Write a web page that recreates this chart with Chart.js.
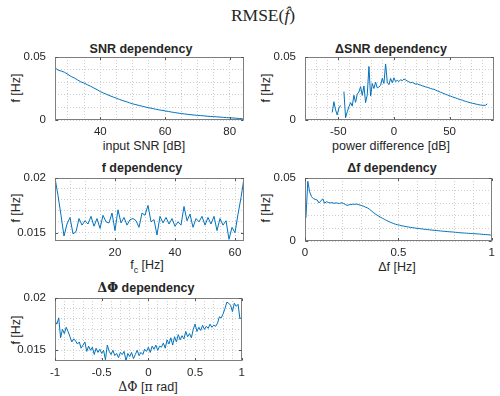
<!DOCTYPE html>
<html><head><meta charset="utf-8">
<script src="https://cdn.jsdelivr.net/npm/chart.js@4.4.1/dist/chart.umd.min.js"></script>
<style>
body{margin:0;background:#fff;width:500px;height:396px;position:relative;overflow:hidden;font-family:"Liberation Sans",Arial,sans-serif;color:#262626}
canvas{position:absolute}
.t{position:absolute;white-space:nowrap;transform:translate(-50%,-50%);font-size:12.5px;line-height:1}
.b{font-weight:bold}
.r{transform:translate(-50%,-50%) rotate(-90deg)}
.s{font-family:"DejaVu Serif",serif}
#main{font-family:"Liberation Serif",serif;font-size:17.5px}
</style></head>
<body>
<div class="t" id="main" style="left:263px;top:16px">RMSE(<i>f&#770;</i>)</div>
<div class="t b" style="left:141px;top:49px">SNR dependency</div>
<div class="t b" style="left:391px;top:49px">&Delta;SNR dependency</div>
<div class="t b" style="left:142px;top:168px">f dependency</div>
<div class="t b" style="left:392px;top:168px">&Delta;f dependency</div>
<div class="t b" style="left:146px;top:288px"><span class="s">&Delta;&Phi;</span> dependency</div>
<div class="t" style="left:144px;top:146px">input SNR [dB]</div>
<div class="t" style="left:391px;top:146px">power difference [dB]</div>
<div class="t" style="left:147px;top:267px">f<sub style="font-size:9px">c</sub> [Hz]</div>
<div class="t" style="left:397px;top:267px">&Delta;f [Hz]</div>
<div class="t" style="left:148px;top:387px"><span class="s">&Delta;&Phi;</span> [<span class="s">&pi;</span> rad]</div>
<div class="t r" style="left:16px;top:88px">f [Hz]</div>
<div class="t r" style="left:266px;top:88px">f [Hz]</div>
<div class="t r" style="left:16px;top:208px">f [Hz]</div>
<div class="t r" style="left:266px;top:208px">f [Hz]</div>
<div class="t r" style="left:16px;top:330px">f [Hz]</div>
<script>
// ---------- data ----------
function seq(a, step, n){ const r=[]; for(let i=0;i<n;i++) r.push(Math.round((a+i*step)*1e6)/1e6); return r; }

const snrDb = seq(26, 1, 59);
const snrRmse = [
 0.0415,0.0395,0.0388,0.0378,0.0362,0.0345,0.0333,0.0318,0.0302,0.0293,
 0.0280,0.0268,0.0254,0.0241,0.0225,0.0214,0.0203,0.0192,0.0182,0.0172,
 0.0163,0.0153,0.0146,0.0137,0.0128,0.0122,0.0115,0.0109,0.0103,0.0097,
 0.0092,0.0086,0.0081,0.0077,0.0072,0.0068,0.0063,0.0059,0.0055,0.0051,
 0.0048,0.0045,0.0042,0.0039,0.0037,0.0035,0.0033,0.0030,0.0028,0.0027,
 0.0025,0.0023,0.0021,0.0019,0.0017,0.0016,0.0014,0.0012,0.0010];

const dsnrDb = seq(-55.5, 1.5, 94);
const dsnrRmse = [
 0.0060,0.0145,0.0080,0.0040,0.0095,0.0115,null,0.0225,0.0018,0.0065,
 0.0105,0.0138,0.0110,0.0196,0.0140,0.0205,0.0222,0.0265,0.0195,0.0270,
 0.0138,0.0200,0.0425,0.0190,0.0290,0.0250,0.0300,0.0255,0.0262,0.0275,
 0.0330,0.0290,0.0445,0.0300,0.0280,0.0330,0.0295,0.0335,0.0305,0.0315,
 0.0305,0.0320,0.0312,0.0325,0.0318,0.0310,0.0302,0.0296,0.0300,0.0291,
 0.0285,0.0287,0.0280,0.0277,0.0271,0.0268,0.0262,0.0260,0.0255,0.0250,
 0.0246,0.0244,0.0237,0.0231,0.0226,0.0220,0.0215,0.0209,0.0204,0.0199,
 0.0194,0.0189,0.0184,0.0179,0.0175,0.0170,0.0165,0.0161,0.0157,0.0152,
 0.0148,0.0144,0.0140,0.0136,0.0133,0.0130,0.0127,0.0124,0.0121,0.0119,
 0.0117,0.0116,0.0117,0.0128];

const fcHz = seq(0, 1, 64);
const fcRmse = [
 0.0200,0.0184,0.0166,0.0147,0.0158,0.0164,0.0149,0.0151,0.0163,0.0157,
 0.0161,0.0158,0.0165,0.0156,0.0163,0.0154,0.0166,0.0160,0.0159,0.0168,
 0.0152,0.0171,0.0159,0.0164,0.0157,0.0162,0.0163,0.0161,0.0155,0.0168,
 0.0166,0.0175,0.0160,0.0162,0.0148,0.0165,0.0159,0.0164,0.0158,0.0163,
 0.0156,0.0160,0.0157,0.0174,0.0161,0.0167,0.0155,0.0163,0.0160,0.0165,
 0.0157,0.0164,0.0158,0.0165,0.0152,0.0163,0.0157,0.0161,0.0144,0.0155,
 0.0150,0.0167,0.0182,0.0200];

const dfHz = seq(0.005, 0.01, 100);
const dfRmse = [
 0.0183,0.0474,0.0390,0.0352,0.0336,0.0330,0.0326,0.0302,0.0318,0.0335,
 0.0300,0.0312,0.0306,0.0302,0.0305,0.0299,0.0303,0.0300,0.0297,0.0304,
 0.0298,0.0292,0.0282,0.0287,0.0290,0.0292,0.0291,0.0293,0.0289,0.0285,
 0.0280,0.0275,0.0268,0.0262,0.0252,0.0240,0.0228,0.0216,0.0206,0.0197,
 0.0188,0.0180,0.0172,0.0164,0.0157,0.0150,0.0144,0.0138,0.0133,0.0129,
 0.0126,0.0122,0.0119,0.0116,0.0113,0.0111,0.0108,0.0106,0.0104,0.0102,
 0.0100,0.0098,0.0096,0.0094,0.0092,0.0091,0.0089,0.0087,0.0086,0.0084,
 0.0083,0.0081,0.0080,0.0078,0.0077,0.0076,0.0074,0.0073,0.0072,0.0071,
 0.0069,0.0068,0.0066,0.0065,0.0064,0.0063,0.0062,0.0061,0.0060,0.0059,
 0.0058,0.0057,0.0056,0.0055,0.0054,0.0052,0.0051,0.0050,0.0049,0.0047];

const dphiPi = seq(-1, 0.02, 101);
const dphiRmse = [
 0.0178,0.0175,0.0181,0.0162,0.0170,0.0166,0.0172,0.0168,0.0163,0.0158,
 0.0161,0.0159,0.0156,0.0158,0.0152,0.0155,0.0158,0.0149,0.0154,0.0150,
 0.0153,0.0146,0.0152,0.0148,0.0151,0.0147,0.0150,0.0141,0.0155,0.0149,
 0.0146,0.0150,0.0145,0.0147,0.0143,0.0148,0.0146,0.0149,0.0140,0.0147,
 0.0144,0.0148,0.0142,0.0146,0.0150,0.0145,0.0148,0.0146,0.0151,0.0149,
 0.0153,0.0148,0.0154,0.0151,0.0155,0.0150,0.0154,0.0153,0.0157,0.0152,
 0.0160,0.0156,0.0162,0.0155,0.0163,0.0158,0.0165,0.0160,0.0164,0.0161,
 0.0168,0.0163,0.0166,0.0162,0.0170,0.0175,0.0168,0.0172,0.0169,0.0174,
 0.0170,0.0173,0.0171,0.0175,0.0172,0.0174,0.0173,0.0176,0.0182,0.0181,
 0.0185,0.0190,0.0196,0.0195,0.0193,0.0187,0.0195,0.0192,0.0194,0.0180,
 0.0182];

// tick values / labels
const snrTicks = [40,60,80], snrTickLabels = ['40','60','80'];
const dsnrTicks = [-50,0,50], dsnrTickLabels = ['-50','0','50'];
const fcTicks = [20,40,60], fcTickLabels = ['20','40','60'];
const dfTicks = [0,0.5,1], dfTickLabels = ['0','0.5','1'];
const dphiTicks = [-1,-0.5,0,0.5,1], dphiTickLabels = ['-1','-0.5','0','0.5','1'];
const rmseTicksA = [0,0.05], rmseTickLabelsA = ['0','0.05'];
const rmseTicksB = [0.015,0.02], rmseTickLabelsB = ['0.015','0.02'];
// minor grid positions
const snrGrid = seq(30,5,11), dsnrGrid = seq(-70,10,16), fcGrid = seq(0,5,13), dfGrid = seq(0,0.1,11), dphiGrid = seq(-1,0.1,21);
const gridA = seq(0,0.01,6), gridB = seq(0.015,0.001,6), gridC = seq(0.014,0.001,7);

// ---------- drawing ----------
const FONT = '"Liberation Sans", Arial, sans-serif';
const GRID = '#cdcdcd', BOX = '#7d7d7d', LINE = '#0072BD';
function lab(v, t, l){ for(let i=0;i<t.length;i++) if(Math.abs(v-t[i])<1e-9) return l[i]; return ''; }

const boxPlugin = (xt, yt) => ({
  id:'box',
  afterDraw(ch){
    const {ctx, chartArea:a} = ch, sx = ch.scales.x, sy = ch.scales.y;
    const L=Math.round(a.left)+0.5, T=Math.round(a.top)+0.5, R=Math.round(a.right)-0.5, B=Math.round(a.bottom)-0.5;
    ctx.save(); ctx.setLineDash([]); ctx.lineWidth=1; ctx.strokeStyle=BOX;
    ctx.strokeRect(L,T,R-L,B-T);
    ctx.strokeStyle='#555'; ctx.beginPath();
    xt.forEach(v=>{ const p=Math.round(sx.getPixelForValue(v))+0.5; ctx.moveTo(p,B); ctx.lineTo(p,B-2.5); ctx.moveTo(p,T); ctx.lineTo(p,T+2.5); });
    yt.forEach(v=>{ const p=Math.round(sy.getPixelForValue(v))+0.5; ctx.moveTo(L,p); ctx.lineTo(L+2.5,p); ctx.moveTo(R,p); ctx.lineTo(R-2.5,p); });
    ctx.stroke(); ctx.restore();
  }
});

function plot(o){
  const c = document.createElement('canvas');
  c.width = 250; c.height = o.h;
  c.style.left = o.cx+'px'; c.style.top = o.cy+'px';
  c.style.width = '250px'; c.style.height = o.h+'px';
  document.body.appendChild(c);
  const pts = o.x.map((v,i)=>({x:v, y:o.y[i]}));
  const tickFont = {family:FONT, size:11.5};
  new Chart(c, {
    type:'line',
    data:{datasets:[{data:pts, borderColor:LINE, borderWidth:1, pointRadius:0, tension:0, spanGaps:false, fill:false}]},
    options:{
      responsive:false, animation:false, devicePixelRatio:1,
      layout:{padding:o.pad},
      plugins:{legend:{display:false}, tooltip:{enabled:false}},
      scales:{
        x:{type:'linear', min:o.xr[0], max:o.xr[1],
          afterBuildTicks:s=>{ s.ticks = o.xg.map(v=>({value:v})); },
          afterFit:s=>{ s.height = 20; },
          ticks:{autoSkip:false, maxRotation:0, minRotation:0, padding:5, color:'#262626', font:tickFont, callback:v=>lab(v,o.xt,o.xl)},
          grid:{color:GRID, lineWidth:1, drawTicks:false},
          border:{display:false, dash:[1,2]}},
        y:{type:'linear', min:o.yr[0], max:o.yr[1],
          afterBuildTicks:s=>{ s.ticks = o.yg.map(v=>({value:v})); },
          afterFit:s=>{ s.width = 40; },
          ticks:{autoSkip:false, padding:9, color:'#262626', font:tickFont, callback:v=>lab(v,o.yt,o.yl)},
          grid:{color:GRID, lineWidth:1, drawTicks:false},
          border:{display:false, dash:[1,2]}}
      }
    },
    plugins:[boxPlugin(o.xt, o.yt)]
  });
}

plot({cx:0, cy:40, h:120, pad:{left:15,right:6,top:17,bottom:20}, x:snrDb, y:snrRmse, xr:[26,84.4], yr:[0,0.05],
  xg:snrGrid, yg:gridA, xt:snrTicks, xl:snrTickLabels, yt:rmseTicksA, yl:rmseTickLabelsA});
plot({cx:250, cy:40, h:120, pad:{left:15,right:6,top:17,bottom:20}, x:dsnrDb, y:dsnrRmse, xr:[-80,90], yr:[0,0.05],
  xg:dsnrGrid, yg:gridA, xt:dsnrTicks, xl:dsnrTickLabels, yt:rmseTicksA, yl:rmseTickLabelsA});
plot({cx:0, cy:160, h:120, pad:{left:15,right:6,top:18,bottom:19}, x:fcHz, y:fcRmse, xr:[0,63], yr:[0.01425,0.02],
  xg:fcGrid, yg:gridB, xt:fcTicks, xl:fcTickLabels, yt:rmseTicksB, yl:rmseTickLabelsB});
plot({cx:250, cy:160, h:120, pad:{left:15,right:6,top:18,bottom:19}, x:dfHz, y:dfRmse, xr:[0,1], yr:[0,0.05],
  xg:dfGrid, yg:gridA, xt:dfTicks, xl:dfTickLabels, yt:rmseTicksA, yl:rmseTickLabelsA});
plot({cx:0, cy:280, h:116, pad:{left:15,right:6,top:18,bottom:15}, x:dphiPi, y:dphiRmse, xr:[-1,1], yr:[0.01398,0.02],
  xg:dphiGrid, yg:gridC, xt:dphiTicks, xl:dphiTickLabels, yt:rmseTicksB, yl:rmseTickLabelsB});
</script>
</body></html>
